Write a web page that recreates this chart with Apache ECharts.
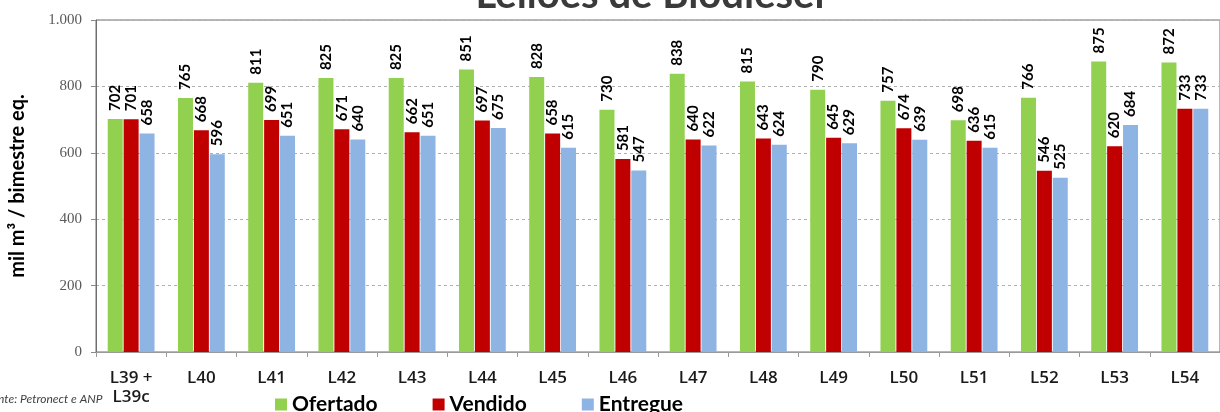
<!DOCTYPE html>
<html>
<head>
<meta charset="utf-8">
<script src="https://cdn.jsdelivr.net/npm/echarts@6/dist/echarts.min.js"></script>
<style>
  html, body { margin: 0; padding: 0; background: #ffffff; }
  #chart { width: 1220px; height: 412px; }
</style>
</head>
<body>
<div id="chart"></div>
<script>
// Biodiesel auctions: offered, sold and delivered volumes per auction
const categories = ['L39 +\nL39c', 'L40', 'L41', 'L42', 'L43', 'L44', 'L45', 'L46',
  'L47', 'L48', 'L49', 'L50', 'L51', 'L52', 'L53', 'L54'];
const ofertado = [702, 765, 811, 825, 825, 851, 828, 730, 838, 815, 790, 757, 698, 766, 875, 872];
const vendido  = [701, 668, 699, 671, 662, 697, 658, 581, 640, 643, 645, 674, 636, 546, 620, 733];
const entregue = [658, 596, 651, 640, 651, 675, 615, 547, 622, 624, 629, 639, 615, 525, 684, 733];
const yTicks = [0, 200, 400, 600, 800, 1000];

const chart = echarts.init(document.getElementById('chart'), null, { renderer: 'canvas' });

const labelStyle = {
  show: true,
  position: 'top',
  rotate: 90,
  align: 'left',
  verticalAlign: 'middle',
  distance: 8,
  fontFamily: 'Lato',
  fontWeight: 'bold',
  fontSize: 15,
  color: '#000000'
};

function makeSeries(name, data, color) {
  return {
    name: name,
    type: 'bar',
    data: data,
    barWidth: 15,
    barGap: '6%',
    itemStyle: { color: color },
    label: labelStyle
  };
}

chart.setOption({
  animation: false,
  backgroundColor: '#ffffff',
  grid: {
    left: 92, top: 20, width: 1136, height: 332,
    show: true, borderColor: '#6e6e6e', borderWidth: 1, backgroundColor: 'transparent'
  },
  legend: {
    data: ['Ofertado', 'Vendido', 'Entregue'],
    left: 270, top: 389,
    icon: 'rect', itemWidth: 12, itemHeight: 12, itemGap: 55,
    textStyle: { fontFamily: 'Lato', fontWeight: 'bold', fontSize: 21, color: '#000000' }
  },
  xAxis: {
    type: 'category',
    data: categories,
    axisLine: { lineStyle: { color: '#9a9a9a' } },
    axisTick: { show: true, alignWithLabel: false, length: 5, lineStyle: { color: '#9a9a9a' } },
    axisLabel: {
      interval: 0, margin: 17,
      fontFamily: 'Open Sans', fontWeight: 600, fontSize: 17, lineHeight: 19, color: '#1a1a1a'
    }
  },
  yAxis: {
    type: 'value',
    min: yTicks[0], max: yTicks[yTicks.length - 1], interval: 200,
    name: 'mil m³ / bimestre eq.',
    nameLocation: 'middle', nameRotate: 90, nameGap: 68,
    nameTextStyle: { fontFamily: 'Lato', fontWeight: 'bold', fontSize: 20, color: '#000000' },
    axisLine: { show: true, lineStyle: { color: '#6e6e6e' } },
    axisTick: { show: true, length: 5, lineStyle: { color: '#8a8a8a' } },
    axisLabel: {
      margin: 14,
      fontFamily: 'Liberation Serif', fontSize: 15, color: '#595959',
      formatter: v => v >= 1000 ? (v / 1000) + '.' + String(v % 1000).padStart(3, '0') : String(v)
    },
    splitLine: { show: true, lineStyle: { color: '#b0b0b0', type: [3, 3] } }
  },
  graphic: [{
    type: 'text',
    x: 650, y: 15,
    style: {
      text: 'Leilões de Biodiesel',
      align: 'center', verticalAlign: 'bottom',
      fontFamily: 'Lato', fontWeight: 'bold', fontSize: 40, fill: '#3a3a3a'
    }
  }, {
    type: 'text',
    left: -14, top: 393,
    style: {
      text: 'Fonte: Petronect e ANP',
      fontFamily: 'Lato', fontStyle: 'italic', fontSize: 12, fill: '#404040'
    }
  }],
  series: [
    makeSeries('Ofertado', ofertado, '#92D050'),
    makeSeries('Vendido', vendido, '#C00000'),
    makeSeries('Entregue', entregue, '#8DB4E2')
  ]
});
</script>
</body>
</html>
